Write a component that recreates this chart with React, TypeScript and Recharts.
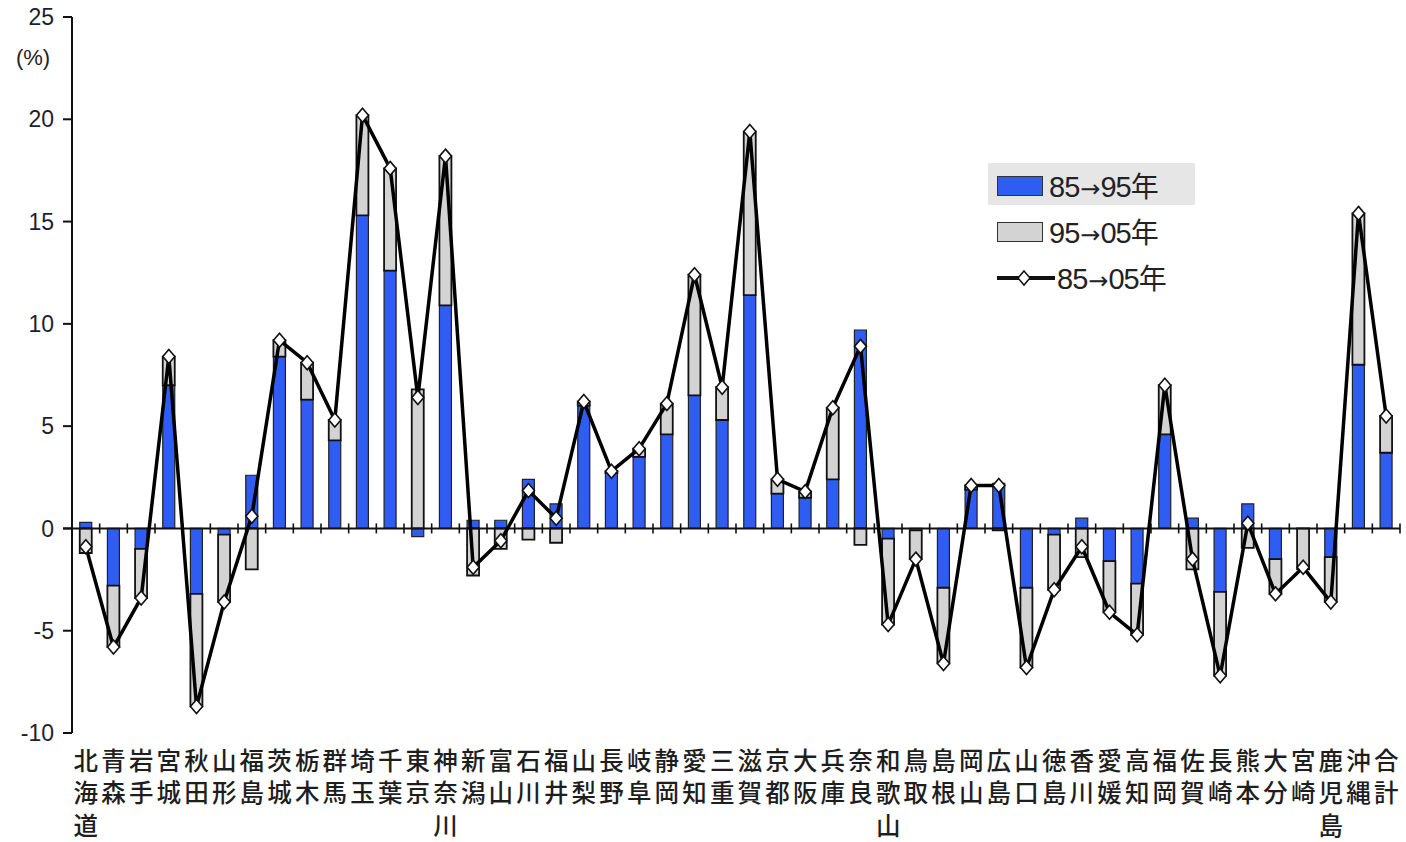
import React from "react";
import { ComposedChart, Bar, Line, XAxis, YAxis, ReferenceLine, Legend } from "recharts";

const prefectures = [
  "北海道", "青森", "岩手", "宮城", "秋田", "山形", "福島", "茨城", "栃木", "群馬",
  "埼玉", "千葉", "東京", "神奈川", "新潟", "富山", "石川", "福井", "山梨", "長野",
  "岐阜", "静岡", "愛知", "三重", "滋賀", "京都", "大阪", "兵庫", "奈良", "和歌山",
  "鳥取", "島根", "岡山", "広島", "山口", "徳島", "香川", "愛媛", "高知", "福岡",
  "佐賀", "長崎", "熊本", "大分", "宮崎", "鹿児島", "沖縄", "合計",
];

// 85→95年
const change8595 = [
  0.3, -2.8, -1.0, 7.0, -3.2, -0.3, 2.6, 8.4, 6.3, 4.3,
  15.3, 12.6, -0.4, 10.9, 0.4, 0.4, 2.4, 1.2, 6.0, 2.7,
  3.5, 4.6, 6.5, 5.3, 11.4, 1.7, 1.5, 2.4, 9.7, -0.5,
  -0.1, -2.9, 1.9, 2.2, -2.9, -0.3, 0.5, -1.6, -2.7, 4.6,
  0.5, -3.1, 1.2, -1.5, 0.0, -1.4, 8.0, 3.7,
];

// 95→05年
const change9505 = [
  -1.2, -3.0, -2.4, 1.4, -5.5, -3.3, -2.0, 0.8, 1.8, 1.0,
  4.9, 5.0, 6.8, 7.3, -2.3, -1.0, -0.55, -0.7, 0.2, 0.1,
  0.4, 1.5, 5.9, 1.6, 8.0, 0.7, 0.3, 3.5, -0.8, -4.2,
  -1.4, -3.7, 0.2, -0.1, -3.9, -2.7, -1.4, -2.5, -2.5, 2.4,
  -2.0, -4.1, -0.95, -1.7, -2.0, -2.2, 7.4, 1.8,
];

// 85→05年
const change8505 = [
  -0.9, -5.8, -3.4, 8.4, -8.7, -3.6, 0.6, 9.2, 8.1, 5.3,
  20.2, 17.6, 6.4, 18.2, -1.9, -0.6, 1.85, 0.5, 6.2, 2.8,
  3.9, 6.1, 12.4, 6.9, 19.4, 2.4, 1.8, 5.9, 8.9, -4.7,
  -1.5, -6.6, 2.1, 2.1, -6.8, -3.0, -0.9, -4.1, -5.2, 7.0,
  -1.5, -7.2, 0.25, -3.2, -1.9, -3.6, 15.4, 5.5,
];

const yTicks = [-10, -5, 0, 5, 10, 15, 20, 25];

const BLUE = "#2f5cf2";
const GRAY = "#d3d3d3";

const data = prefectures.map((name, i) => ({
  name,
  a: change8595[i],
  b: change9505[i],
  c: change8505[i],
}));

const legendItems = [
  { from: "85", to: "95", kind: "bar", fill: BLUE },
  { from: "95", to: "05", kind: "bar", fill: GRAY },
  { from: "85", to: "05", kind: "line", fill: "#fff" },
];

const narrow = "'Liberation Sans Narrow', 'Arial Narrow', 'Liberation Sans', 'Noto Sans CJK JP', sans-serif";

function CategoryTick(props: any) {
  const { x, y, payload } = props;
  const chars = Array.from(String(payload.value));
  return (
    <g>
      {chars.map((ch, i) => (
        <text
          key={i}
          x={x}
          y={y + 18 + i * 32.5}
          textAnchor="middle"
          dominantBaseline="central"
          fontSize={24.5}
          fontWeight={500}
          fontFamily="'Noto Sans CJK JP', sans-serif"
          fill="#1e1e1e"
        >
          {ch}
        </text>
      ))}
    </g>
  );
}

function Diamond(props: any) {
  const { cx, cy } = props;
  if (cx == null || cy == null) return null;
  return (
    <path
      d={`M${cx},${cy - 7} L${cx + 6},${cy} L${cx},${cy + 7} L${cx - 6},${cy} Z`}
      fill="#fff"
      stroke="#111"
      strokeWidth={1.6}
    />
  );
}

function ZeroAxis(props: any) {
  const { x1, x2, y1 } = props;
  const n = prefectures.length;
  const step = (x2 - x1) / n;
  const ticks = [];
  for (let i = 1; i <= n; i++) {
    const tx = x1 + step * i;
    ticks.push(<line key={i} x1={tx} x2={tx} y1={y1 - 5} y2={y1 + 5} stroke="#111" strokeWidth={1.6} />);
  }
  return (
    <g>
      <line x1={x1 - 9} x2={x2} y1={y1} y2={y1} stroke="#111" strokeWidth={2} />
      {ticks}
    </g>
  );
}

function LegendBox() {
  return (
    <div style={{ position: "relative", width: 210 }}>
      <div style={{ position: "absolute", left: 0, top: 0, width: 207, height: 42, background: "#e6e6e6" }} />
      {legendItems.map((it) => (
        <div key={it.from + it.to} style={{ position: "relative", display: "flex", alignItems: "center", height: 46, paddingLeft: 9 }}>
          {it.kind === "bar" ? (
            <div style={{ width: 46, height: 20, background: it.fill, border: "1.5px solid #333", boxSizing: "border-box" }} />
          ) : (
            <svg width={58} height={20}>
              <line x1={0} x2={58} y1={10} y2={10} stroke="#111" strokeWidth={4} />
              <path d="M27,3 L33,10 L27,17 L21,10 Z" fill="#fff" stroke="#111" strokeWidth={1.5} />
            </svg>
          )}
          <span style={{ marginLeft: it.kind === "bar" ? 6 : 2, fontFamily: narrow, fontSize: 29, color: "#222", lineHeight: 1, letterSpacing: -1 }}>
            {it.from}
            <span style={{ fontFamily: "'DejaVu Sans', sans-serif", fontSize: 24, margin: "0 1px" }}>→</span>
            {it.to}
            <span style={{ fontFamily: "'Noto Sans CJK JP', sans-serif", fontSize: 28 }}>年</span>
          </span>
        </div>
      ))}
    </div>
  );
}

export default function App() {
  return (
    <div style={{ position: "absolute", left: 0, top: 0, background: "#fff" }}>
      <svg width={60} height={40} style={{ position: "absolute", left: 0, top: 38, zIndex: 2 }}>
        <text x={33} y={19} textAnchor="middle" dominantBaseline="central" fontFamily={narrow} fontSize={22} fill="#222">
          (%)
        </text>
      </svg>
      <ComposedChart
        width={1406}
        height={842}
        data={data}
        stackOffset="sign"
        barCategoryGap="28%"
        margin={{ top: 17, right: 6, bottom: 0, left: 0 }}
      >
        <XAxis
          dataKey="name"
          interval={0}
          axisLine={false}
          tickLine={false}
          height={109}
          tick={<CategoryTick />}
        />
        <YAxis
          domain={[-10, 25]}
          ticks={yTicks}
          width={72}
          tickSize={9}
          tickMargin={9}
          axisLine={{ stroke: "#111", strokeWidth: 2 }}
          tickLine={{ stroke: "#111", strokeWidth: 2 }}
          tick={{ fontSize: 23, fill: "#1e1e30", fontFamily: narrow }}
          allowDataOverflow
        />
        <Legend
          layout="vertical"
          align="center"
          verticalAlign="middle"
          wrapperStyle={{ left: 988, top: 163, width: 215 }}
          content={() => <LegendBox />}
        />
        <Bar dataKey="a" stackId="s" fill={BLUE} stroke="#222" strokeWidth={1.2} isAnimationActive={false} />
        <Bar dataKey="b" stackId="s" fill={GRAY} stroke="#111" strokeWidth={1.8} isAnimationActive={false} />
        <ReferenceLine y={0} shape={(p: any) => <ZeroAxis {...p} />} />
        <Line
          dataKey="c"
          type="linear"
          stroke="#000"
          strokeWidth={3.5}
          dot={<Diamond />}
          activeDot={false}
          isAnimationActive={false}
        />
      </ComposedChart>
    </div>
  );
}
